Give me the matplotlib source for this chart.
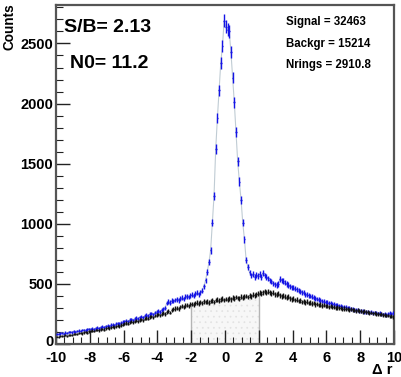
import numpy as np
import matplotlib
matplotlib.use("Agg")
import matplotlib.pyplot as plt
import matplotlib.transforms as mtransforms
from matplotlib.ticker import MultipleLocator

# ---------------- data ----------------
bin_edges_range = (-10.0, 10.0)
n_bins = 200

signal_counts = [
    84, 80, 88, 92, 86, 95, 90, 98, 102, 96,
    104, 100, 108, 112, 106, 115, 118, 112, 122, 126,
    124, 128, 122, 132, 136, 130, 140, 144, 138, 148,
    152, 148, 158, 162, 156, 168, 172, 166, 178, 182,
    188, 195, 190, 200, 206, 198, 212, 218, 210, 222,
    228, 222, 236, 242, 234, 248, 254, 246, 262, 270,
    276, 268, 284, 290, 300, 340, 352, 345, 360, 356,
    365, 372, 362, 378, 385, 375, 392, 398, 390, 405,
    410, 402, 418, 425, 415, 430, 445, 480, 530, 600,
    680, 780, 1010, 1230, 1620, 1880, 2110, 2340, 2480, 2690,
    2640, 2615, 2600, 2430, 2215, 2010, 1760, 1520, 1350, 1200,
    1010, 870, 700, 640, 595, 570, 580, 560, 575, 565,
    580, 560, 590, 570, 555, 545, 530, 520, 505, 495,
    490, 500, 540, 530, 525, 510, 500, 490, 480, 472,
    470, 460, 455, 445, 440, 430, 425, 415, 410, 405,
    400, 392, 385, 380, 375, 368, 362, 358, 352, 350,
    345, 342, 338, 332, 330, 326, 322, 318, 315, 310,
    308, 304, 300, 296, 292, 290, 286, 284, 280, 278,
    276, 272, 270, 266, 264, 262, 270, 258, 262, 256,
    254, 258, 250, 246, 252, 244, 250, 256, 248, 255,
]

background_counts = [
    62, 58, 66, 70, 64, 72, 68, 75, 78, 74,
    82, 86, 80, 90, 94, 88, 97, 100, 95, 104,
    108, 112, 106, 115, 118, 113, 122, 126, 120, 130,
    134, 129, 140, 144, 138, 149, 152, 147, 158, 162,
    168, 175, 170, 180, 186, 179, 190, 195, 188, 200,
    205, 198, 212, 218, 210, 224, 230, 222, 236, 240,
    246, 238, 252, 258, 250, 265, 272, 262, 280, 288,
    295, 300, 292, 308, 315, 305, 320, 326, 318, 332,
    335, 328, 340, 345, 336, 350, 342, 355, 348, 352,
    345, 358, 362, 350, 365, 370, 360, 372, 378, 366,
    375, 368, 380, 372, 385, 378, 390, 382, 376, 392,
    386, 395, 400, 390, 405, 398, 410, 404, 415, 420,
    425, 418, 432, 440, 428, 436, 430, 422, 426, 415,
    410, 420, 405, 398, 402, 392, 385, 395, 380, 372,
    376, 365, 370, 358, 362, 350, 355, 346, 352, 340,
    345, 336, 340, 330, 334, 325, 328, 320, 324, 315,
    318, 310, 314, 305, 308, 300, 304, 296, 300, 292,
    295, 288, 292, 284, 288, 280, 284, 276, 280, 272,
    275, 268, 272, 264, 266, 258, 262, 254, 258, 250,
    252, 246, 248, 240, 244, 236, 238, 230, 234, 224,
]

signal_window = (-2.0, 2.0)
label_sb = "S/B= 2.13"
label_n0 = "N0= 11.2"
stats_lines = ["Signal = 32463", "Backgr = 15214", "Nrings = 2910.8"]

# ---------------- plot ----------------
plt.rcParams['font.family'] = ['Liberation Sans', 'DejaVu Sans']
plt.rcParams['axes.unicode_minus'] = False
plt.rcParams['hatch.color'] = '#e2e2e2'
plt.rcParams['hatch.linewidth'] = 0.5
W, H = 401, 377
fig = plt.figure(figsize=(W / 100, H / 100), dpi=100)
ax = fig.add_axes([56 / W, 1 - 344 / H, (394 - 56) / W, (344 - 5) / H])

edges = np.linspace(bin_edges_range[0], bin_edges_range[1], n_bins + 1)
centers = 0.5 * (edges[:-1] + edges[1:])
half_w = 0.5 * (edges[1] - edges[0])
sig = np.array(signal_counts, dtype=float)
bkg = np.array(background_counts, dtype=float)

# shaded background window
mask = (centers > signal_window[0]) & (centers < signal_window[1])
xs = np.concatenate([[e, e + 2 * half_w] for e in edges[:-1][mask]])
ys = np.repeat(bkg[mask], 2)
ax.fill_between(xs, 0, ys, facecolor='#f7f7f7', edgecolor='none', hatch='...', zorder=1)
ax.vlines([signal_window[0], signal_window[1]], 0,
          [bkg[mask][0], bkg[mask][-1]], colors='#b4b4b4', linewidth=1.0, zorder=1.5)

# fit curve (light)
ax.plot(centers, sig, color='#c0ccd4', linewidth=0.8, zorder=2)

# signal points
ax.errorbar(centers, sig, yerr=np.sqrt(sig), xerr=half_w, fmt='none',
            ecolor='#1414e6', elinewidth=1.0, zorder=3)
# background points
ax.errorbar(centers, bkg, yerr=np.sqrt(bkg), xerr=half_w, fmt='none',
            ecolor='#111111', elinewidth=1.0, zorder=4)

ax.set_xlim(-10, 10)
ax.set_ylim(0, 2820)
ax.xaxis.set_major_locator(MultipleLocator(2))
ax.xaxis.set_minor_locator(MultipleLocator(0.5))
ax.yaxis.set_major_locator(MultipleLocator(500))
ax.yaxis.set_minor_locator(MultipleLocator(100))
ax.tick_params(which='both', direction='in', top=False, right=False, color='#222222')
ax.tick_params(which='major', length=10, width=1.0, labelsize=10.5)
ax.tick_params(axis='x', which='major', pad=5)
ax.tick_params(axis='y', which='major', pad=2)
ax.tick_params(which='minor', length=5, width=0.8)
fig.canvas.draw()
for lbl in ax.get_xticklabels() + ax.get_yticklabels():
    lbl.set_fontweight('bold')
# nudge the "0" label on the y axis slightly upward (as in reference)
for lbl in ax.yaxis.get_majorticklabels():
    if lbl.get_text() == '0':
        lbl.set_transform(lbl.get_transform() +
                          mtransforms.ScaledTranslation(0, 3 / 100, fig.dpi_scale_trans))
for s in ax.spines.values():
    s.set_color('#555555')
    s.set_linewidth(1.6)

def ftext(x, y, s, **kw):
    fig.text(x / W, 1 - y / H, s, **kw)

ftext(64, 28, label_sb, fontsize=14, fontweight='bold', va='center', ha='left')
ftext(70, 63, label_n0, fontsize=14, fontweight='bold', va='center', ha='left')
for i, line in enumerate(stats_lines):
    ftext(286, 22 + i * 21.5, line, fontsize=8.3, fontweight='bold', va='center', ha='left')
ftext(10, 3, "Counts", fontsize=9.8, fontweight='bold', rotation=90, va='top', ha='center')
ftext(393, 370, "\u0394 r", fontsize=10.5, fontweight='bold', va='center', ha='right')

fig.savefig("out.png", dpi=100)
